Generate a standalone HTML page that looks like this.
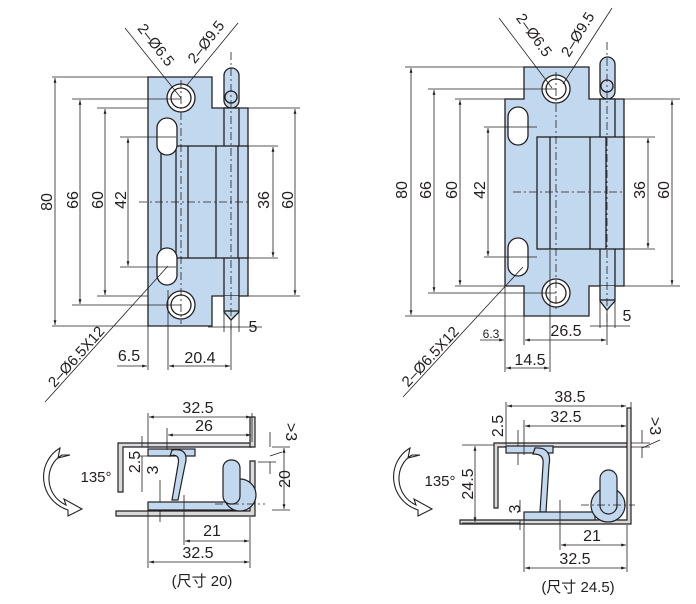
<!DOCTYPE html>
<html><head><meta charset="utf-8"><style>
html,body{margin:0;padding:0;background:#fff;}
svg{display:block;font-family:"Liberation Sans","Noto Sans CJK SC",sans-serif;}
</style></head><body>
<svg width="696" height="604" viewBox="0 0 696 604" xmlns="http://www.w3.org/2000/svg">
<defs>
<marker id="a" viewBox="0 0 10 10" refX="10" refY="5" markerWidth="6" markerHeight="6" orient="auto-start-reverse"><path d="M0,2 L10,5 L0,8 z" fill="#231f20"/></marker>
</defs>
<g stroke="#231f20" stroke-width="1.3" fill="#c2d8ef">
<path d="M148,77 H212 V108 H248 V296 H212 V326 H148 Z"/>
<rect x="224" y="68" width="15" height="40" rx="7.5"/>
<circle cx="231" cy="97" r="6"/>
<rect x="224" y="108" width="15" height="188" />
<path d="M224,296 V312 L231,320 L239,312 V296" />
<line x1="224" y1="311" x2="239" y2="311"/>
<rect x="176" y="146" width="72" height="112"/>
<line x1="161" y1="150" x2="161" y2="250"/>
<line x1="188" y1="146" x2="188" y2="258"/>
<line x1="216" y1="146" x2="216" y2="258"/>
<line x1="238" y1="146" x2="238" y2="258"/>
<circle cx="181" cy="98" r="14" fill="#fff"/><circle cx="181" cy="98" r="10" fill="#fff"/>
<circle cx="181" cy="305" r="14" fill="#fff"/><circle cx="181" cy="305" r="10" fill="#fff"/>
<rect x="157" y="118" width="20" height="37" rx="10" fill="#fff"/>
<rect x="157" y="248" width="20" height="37" rx="10" fill="#fff"/>
<path d="M505,99 H524 V67 H589 V99 H624 V286 H589 V316 H524 V286 H505 Z"/>
<rect x="600" y="57" width="15" height="42" rx="7.5"/>
<circle cx="607" cy="86" r="6"/>
<rect x="600" y="99" width="15" height="187"/>
<path d="M600,286 V301 L607,310 L615,301 V286"/>
<line x1="600" y1="300" x2="615" y2="300"/>
<rect x="537" y="137" width="87" height="112"/>
<line x1="550" y1="137" x2="550" y2="249"/>
<line x1="590" y1="137" x2="590" y2="249"/>
<line x1="606" y1="137" x2="606" y2="249"/>
<circle cx="556" cy="89" r="14" fill="#fff"/><circle cx="556" cy="89" r="10" fill="#fff"/>
<circle cx="556" cy="293" r="14" fill="#fff"/><circle cx="556" cy="293" r="10" fill="#fff"/>
<rect x="508" y="107" width="20" height="38" rx="10" fill="#fff"/>
<rect x="508" y="238" width="20" height="38" rx="10" fill="#fff"/>
</g>
<g stroke="#231f20" stroke-width="1.2">
<path d="M118,492 V443 H252 V447 H123 V492 Z" fill="#d9dadb"/>
<path d="M250,417 H255 V447 H250 Z" fill="#d9dadb"/>
<path d="M116,511 H250 V461 H255 V516 H116 Z" fill="#d9dadb"/>
<rect x="148" y="449" width="47" height="7" fill="#c2d8ef"/>
<path d="M172,450 C185,448 188,455 185,465 L178,500 H172 L178,465 C180,456 176,454 170,456 Z" fill="#c2d8ef"/>
<rect x="148" y="502" width="97" height="8" fill="#c2d8ef"/>
<circle cx="240" cy="495" r="16" fill="#c2d8ef"/>
<rect x="223" y="460" width="17" height="44" rx="8" fill="#c2d8ef"/>
<path d="M494,508 V443 H630 V447 H498 V508 Z" fill="#d9dadb"/>
<path d="M627,408 H631 V524 H460 V520 H627 Z" fill="#d9dadb"/>
<rect x="506" y="446" width="47" height="7" fill="#c2d8ef"/>
<path d="M535,448 C548,447 551,455 549,465 L546,512 H540 L543,465 C544,456 540,454 533,454 Z" fill="#c2d8ef"/>
<rect x="524" y="512" width="71" height="8" fill="#c2d8ef"/>
<circle cx="608" cy="505" r="17" fill="#c2d8ef"/>
<rect x="600" y="470" width="17" height="44" rx="8.5" fill="#c2d8ef"/>
</g>
<g stroke="#231f20" stroke-width="0.8" stroke-dasharray="8,3,2,3" fill="none">
<line x1="139" y1="202" x2="250" y2="202"/>
<line x1="231" y1="52" x2="231" y2="330"/>
<line x1="181" y1="80" x2="181" y2="324"/>
<line x1="513" y1="192" x2="623" y2="192"/>
<line x1="607" y1="42" x2="607" y2="322"/>
<line x1="556" y1="72" x2="556" y2="312"/>
<line x1="215" y1="504" x2="265" y2="504"/>
<line x1="581" y1="505" x2="635" y2="505"/>
</g>
<g stroke="#231f20" stroke-width="0.8" fill="none">
<path d="M52,77 H148 M72,99 H181 M97,108 H148 M120,137 H176 M248,146 H278 M248,258 H278 M248,108 H300 M248,296 H300 M97,296 H148 M72,305 H181 M52,326 H212"/>
<line x1="55" y1="78" x2="55" y2="325" marker-start="url(#a)" marker-end="url(#a)"/>
<line x1="80" y1="100" x2="80" y2="304" marker-start="url(#a)" marker-end="url(#a)"/>
<line x1="105" y1="109" x2="105" y2="295" marker-start="url(#a)" marker-end="url(#a)"/>
<line x1="128" y1="138" x2="128" y2="266" marker-start="url(#a)" marker-end="url(#a)"/>
<path d="M120,267 H176"/>
<line x1="273" y1="147" x2="273" y2="257" marker-start="url(#a)" marker-end="url(#a)"/>
<line x1="295" y1="109" x2="295" y2="295" marker-start="url(#a)" marker-end="url(#a)"/>
<path d="M148,326 V370 M168,290 V370 M231,320 V370 M224,312 V332 M239,312 V332 M208,327 H262"/>
<line x1="117" y1="366" x2="147" y2="366" marker-end="url(#a)"/>
<line x1="169" y1="366" x2="230" y2="366" marker-start="url(#a)" marker-end="url(#a)"/>
<line x1="125" y1="28" x2="181" y2="98"/>
<line x1="238" y1="23" x2="187" y2="85"/>
<line x1="168" y1="266" x2="45" y2="402"/>
<path d="M405,67 H524 M428,89 H556 M455,99 H505 M484,127 H537 M624,137 H655 M624,249 H655 M624,99 H680 M624,286 H680 M455,286 H505 M428,293 H556 M405,316 H524"/>
<line x1="411" y1="68" x2="411" y2="315" marker-start="url(#a)" marker-end="url(#a)"/>
<line x1="434" y1="90" x2="434" y2="292" marker-start="url(#a)" marker-end="url(#a)"/>
<line x1="460" y1="100" x2="460" y2="285" marker-start="url(#a)" marker-end="url(#a)"/>
<line x1="488" y1="128" x2="488" y2="256" marker-start="url(#a)" marker-end="url(#a)"/>
<path d="M484,257 H537"/>
<line x1="648" y1="138" x2="648" y2="248" marker-start="url(#a)" marker-end="url(#a)"/>
<line x1="672" y1="100" x2="672" y2="285" marker-start="url(#a)" marker-end="url(#a)"/>
<path d="M505,286 V372 M524,316 V345 M550,250 V372 M607,310 V345 M600,300 V328 M615,300 V328 M590,326 H630"/>
<line x1="480" y1="340" x2="504" y2="340" marker-end="url(#a)"/>
<line x1="525" y1="340" x2="606" y2="340" marker-start="url(#a)" marker-end="url(#a)"/>
<line x1="506" y1="368" x2="549" y2="368" marker-start="url(#a)" marker-end="url(#a)"/>
<line x1="499" y1="18" x2="552" y2="88"/>
<line x1="612" y1="8" x2="563" y2="84"/>
<line x1="523" y1="267" x2="403" y2="397"/>
<path d="M148,413 V448 M252,413 V442 M167,428 V450 M148,510 V568 M250,517 V568 M184,495 V545 M272,447 H290 M272,510 H290 M258,462 H276 M138,447 H148 M138,456 H148 M155,502 H160 M155,510 H160"/>
<line x1="149" y1="417" x2="251" y2="417" marker-start="url(#a)" marker-end="url(#a)"/>
<line x1="168" y1="435" x2="251" y2="435" marker-start="url(#a)" marker-end="url(#a)"/>
<line x1="284" y1="448" x2="284" y2="509" marker-start="url(#a)" marker-end="url(#a)"/>
<line x1="185" y1="541" x2="249" y2="541" marker-start="url(#a)" marker-end="url(#a)"/>
<line x1="149" y1="562" x2="249" y2="562" marker-start="url(#a)" marker-end="url(#a)"/>
<path d="M142,436 V447 M142,456 V492 M160,480 V502 M160,510 V522 M270,432 V447 M270,462 V474 M270,456 L282,452"/>
<path d="M506,402 V445 M524,420 V455 M631,402 V408 M462,445 H494 M462,523 H520 M524,520 V572 M627,525 V572 M560,500 V550 M631,443 H650 M631,447 H650"/>
<line x1="507" y1="406" x2="626" y2="406" marker-start="url(#a)" marker-end="url(#a)"/>
<line x1="525" y1="426" x2="626" y2="426" marker-start="url(#a)" marker-end="url(#a)"/>
<line x1="475" y1="446" x2="475" y2="522" marker-start="url(#a)" marker-end="url(#a)"/>
<line x1="561" y1="545" x2="626" y2="545" marker-start="url(#a)" marker-end="url(#a)"/>
<line x1="525" y1="568" x2="626" y2="568" marker-start="url(#a)" marker-end="url(#a)"/>
<path d="M518,430 V446 M518,453 V465 M642,430 V443 M642,447 V458 M642,448 L660,440 M520,500 V512 M520,520 V530"/>
</g>
<g fill="#fff" stroke="#231f20" stroke-width="1.1">
<path d="M62,455 C44,465 44,495 66,505 L64,499 L82,509 L68,516 L68,510 C38,500 36,462 60,448 L58,458 L70,455 Z"/>
<path d="M412,455 C394,465 394,495 416,505 L414,499 L432,509 L418,516 L418,510 C388,500 386,462 410,448 L408,458 L420,455 Z"/>
</g>
<g fill="#231f20" font-size="16" text-anchor="middle">
<text transform="translate(52,202) rotate(-90)">80</text>
<text transform="translate(78,200) rotate(-90)">66</text>
<text transform="translate(103,200) rotate(-90)">60</text>
<text transform="translate(126,200) rotate(-90)">42</text>
<text transform="translate(269,200) rotate(-90)">36</text>
<text transform="translate(293,200) rotate(-90)">60</text>
<text x="129" y="361">6.5</text>
<text x="200" y="363">20.4</text>
<text x="253" y="332">5</text>
<text transform="translate(152,48) rotate(52)" font-size="15">2–Ø6.5</text>
<text transform="translate(210,45) rotate(-52)" font-size="15">2–Ø9.5</text>
<text transform="translate(80,360) rotate(-48)" font-size="15">2–Ø6.5X12</text>
<text transform="translate(407,190) rotate(-90)">80</text>
<text transform="translate(431,190) rotate(-90)">66</text>
<text transform="translate(457,190) rotate(-90)">60</text>
<text transform="translate(485,190) rotate(-90)">42</text>
<text transform="translate(645,190) rotate(-90)">36</text>
<text transform="translate(669,190) rotate(-90)">60</text>
<text x="491" y="338" font-size="12">6.3</text>
<text x="566" y="336">26.5</text>
<text x="530" y="365">14.5</text>
<text x="627" y="321">5</text>
<text transform="translate(530,38) rotate(54)" font-size="15">2–Ø6.5</text>
<text transform="translate(582,37) rotate(-58)" font-size="15">2–Ø9.5</text>
<text transform="translate(434,360) rotate(-47)" font-size="15">2–Ø6.5X12</text>
<text x="198" y="413">32.5</text>
<text x="204" y="431">26</text>
<text transform="translate(140,462) rotate(-90)">2.5</text>
<text transform="translate(158,470) rotate(-90)">3</text>
<text transform="translate(290,479) rotate(-90)">20</text>
<text transform="translate(286,432) rotate(90)">&gt;3</text>
<text x="212" y="536">21</text>
<text x="198" y="558">32.5</text>
<text x="96" y="482" font-size="15">135°</text>
<text x="202" y="586" font-size="15">(尺寸 20)</text>
<text x="570" y="402">38.5</text>
<text x="566" y="422">32.5</text>
<text transform="translate(503,426) rotate(-90)">2.5</text>
<text transform="translate(473,484) rotate(-90)">24.5</text>
<text transform="translate(520,509) rotate(-90)">3</text>
<text transform="translate(650,426) rotate(90)">&gt;3</text>
<text x="592" y="541">21</text>
<text x="575" y="564">32.5</text>
<text x="440" y="486" font-size="15">135°</text>
<text x="578" y="592" font-size="15">(尺寸 24.5)</text>
</g>
</svg>
</body></html>
